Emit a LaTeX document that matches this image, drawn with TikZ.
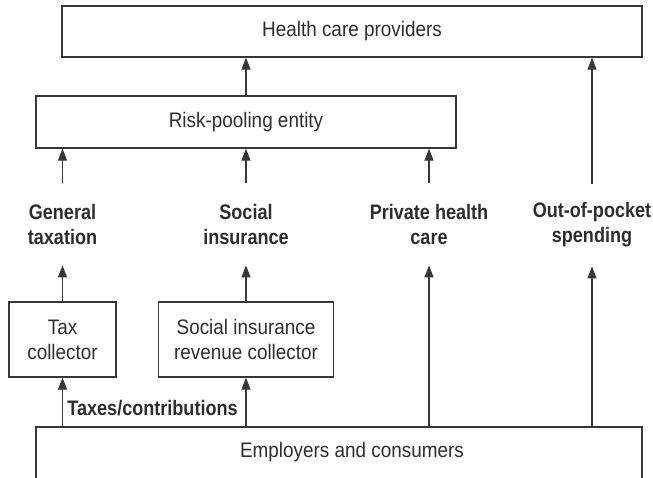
\documentclass[tikz,border=0pt]{standalone}
\usepackage{fontspec}
\setmainfont[FakeStretch=0.9, BoldFeatures={FakeStretch=0.86}]{Liberation Sans}
\usetikzlibrary{arrows.meta}
\definecolor{FlowGray}{RGB}{55,55,55}
\definecolor{TextGray}{RGB}{45,45,45}

\begin{document}
\begin{tikzpicture}[x=0.5pt, y=-0.5pt,
    every node/.style={font=\fontsize{10.5}{12.5}\selectfont, text=TextGray},
    box/.style={draw=FlowGray, line width=0.6pt, align=center, inner sep=0pt},
    source/.style={font=\fontsize{10.5}{12.5}\selectfont\bfseries, align=center, minimum height=41pt, inner sep=0pt},
    flow/.style={draw=FlowGray, line width=0.6pt, -{Triangle[length=6pt, width=4.5pt]}}]
\useasboundingbox (0,0) rectangle (653,477);
%Providers and pool
\node[box, minimum width=290pt, minimum height=25.5pt] (providers) at (352,31.5) {Health care providers};
\node[box, minimum width=210pt, minimum height=26pt] (pool) at (246,122) {Risk-pooling entity};
%Sources
\node[source] (gentax) at (62.5,224) {General\\taxation};
\node[source] (socins) at (246,224) {Social\\insurance};
\node[source] (private) at (429,224) {Private health\\care};
\node[source] (oop) at (592,225) {Out-of-pocket\\spending};
%Collectors
\node[box, minimum width=53.5pt, minimum height=37.5pt] (taxcol) at (62.5,339.5) {Tax\\collector};
\node[box, minimum width=87.5pt, minimum height=37.5pt] (sicol) at (246,339.5) {Social insurance\\revenue collector};
%Employers, open at the bottom
\draw[draw=FlowGray, line width=0.6pt] (36,480) |- (642,427) -- (642,480);
\node (employers) at (352,452) {Employers and consumers};
\coordinate (emptax) at (62.5,427);
\coordinate (empsi) at (246,427);
\coordinate (empprivate) at (429,427);
\coordinate (empoop) at (592,427);
\node[font=\fontsize{10.5}{12.5}\selectfont\bfseries, anchor=west, inner sep=0pt] (taxes) at (67,408) {Taxes/contributions};

%Flows
\draw[flow] (emptax) -- (taxcol.south);
\draw[flow] (empsi) -- (sicol.south);
\draw[flow] (empprivate) -- (private.south);
\draw[flow] (empoop) -- (oop.south);
\draw[flow] (taxcol.north) -- (gentax.south);
\draw[flow] (sicol.north) -- (socins.south);
\draw[flow] (gentax.north) -- (gentax.north |- pool.south);
\draw[flow] (socins.north) -- (socins.north |- pool.south);
\draw[flow] (private.north) -- (private.north |- pool.south);
\draw[flow] (oop.north) -- (oop.north |- providers.south);
\draw[flow] (pool.north) -- (pool.north |- providers.south);
\end{tikzpicture}
\end{document}
